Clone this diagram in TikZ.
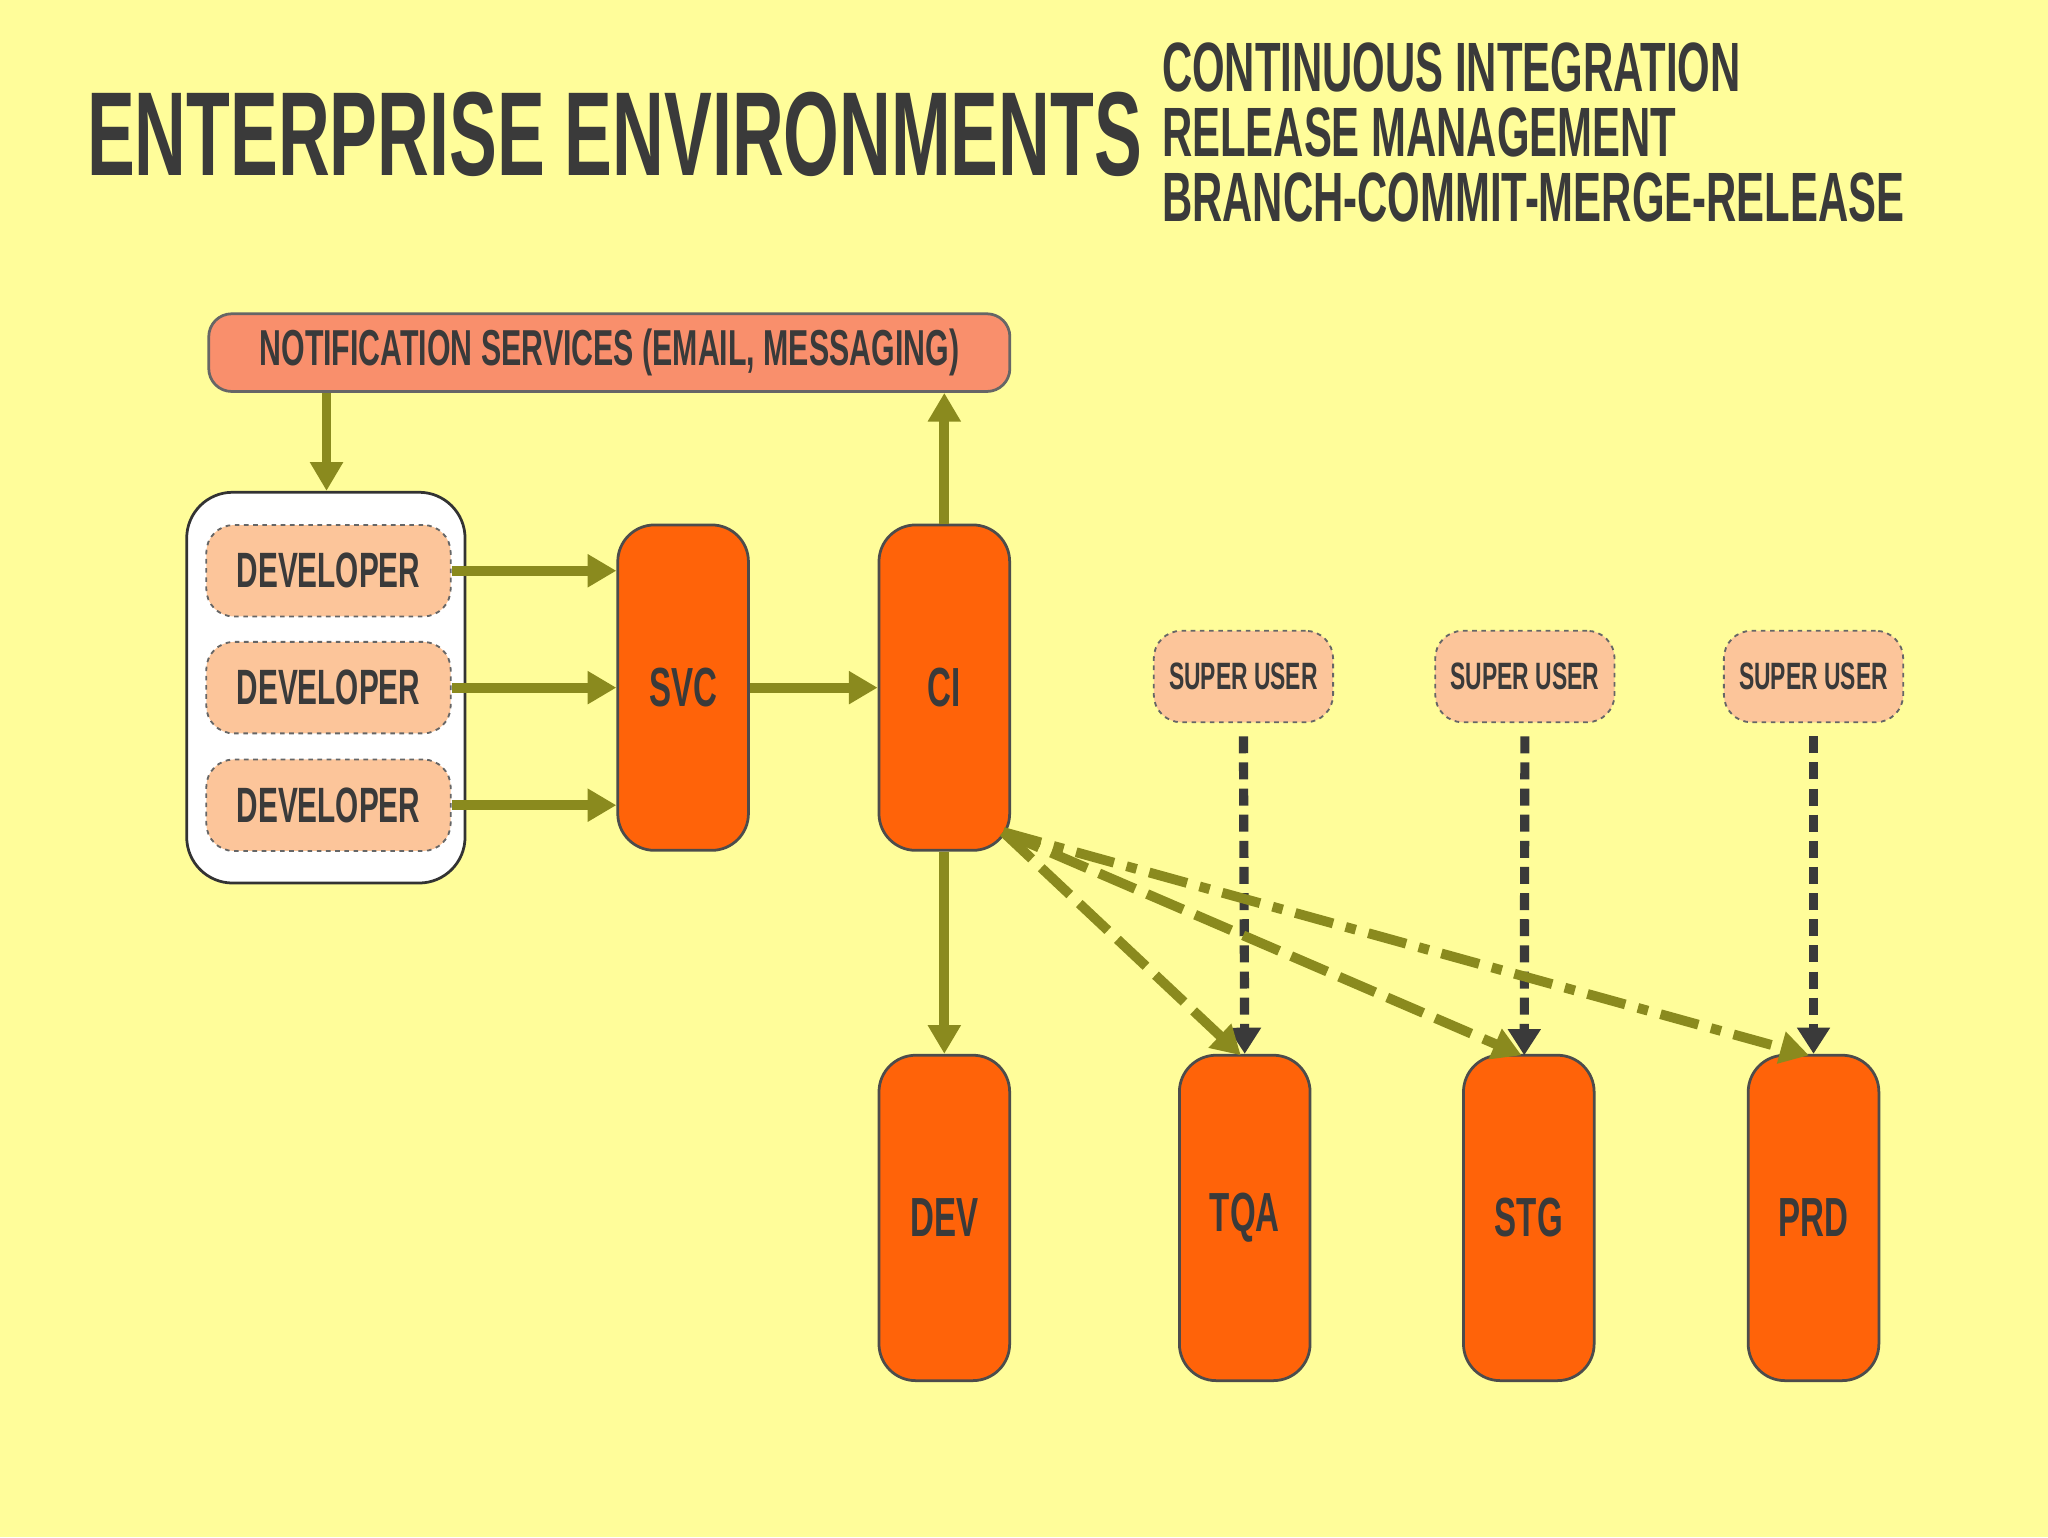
\documentclass[tikz,border=0pt]{standalone}
\usepackage{fontspec}
\setmainfont{Liberation Sans}[FakeStretch=0.6]
\usetikzlibrary{arrows.meta}
\definecolor{bg}{HTML}{FFFD9A}
\definecolor{olive}{HTML}{8A8A1E}
\definecolor{orng}{HTML}{FF6309}
\definecolor{salm}{HTML}{F98F6C}
\definecolor{peach}{HTML}{FCC59A}
\definecolor{txt}{HTML}{3A3A3A}
\begin{document}
\begin{tikzpicture}[x=0.01cm,y=-0.01cm,
  env/.style={draw=black!70,fill=orng,rounded corners=8pt,line width=0.6pt,font=\bfseries\fontsize{12}{12}\selectfont,text=txt},
  dev/.style={draw=black!60,dash pattern=on 1pt off 1pt,fill=peach,rounded corners=6pt,minimum width=1.87cm,minimum height=0.70cm,font=\bfseries\fontsize{10.8}{10.8}\selectfont,text=txt},
  su/.style={draw=black!60,dash pattern=on 1pt off 1pt,fill=peach,rounded corners=6pt,minimum width=1.28cm,minimum height=0.70cm,font=\bfseries\fontsize{8.3}{8.3}\selectfont,text=txt},
  oar/.style={draw=olive,line width=0.075cm,-{Triangle[length=0.22cm,width=0.24cm]}},
  gar/.style={draw=txt,line width=0.07cm,dash pattern=on 0.13cm off 0.07cm,-{Triangle[length=0.2cm,width=0.24cm]}},
]
\useasboundingbox (0,0) rectangle (1568,1177);
\fill[bg] (0,0) rectangle (1568,1177);
\node[anchor=west,inner sep=0,text=txt,font=\bfseries\fontsize{26}{26}\selectfont] (title) at (66,103) {ENTERPRISE ENVIRONMENTS};
\node[anchor=north west,inner sep=0,text=txt,align=left,font=\bfseries\fontsize{15.2}{14.2}\selectfont] (sub) at (889,32) {CONTINUOUS INTEGRATION\\RELEASE MANAGEMENT\\BRANCH-COMMIT-MERGE-RELEASE};
\node[draw=black!60,fill=salm,rounded corners=5pt,minimum width=6.13cm,minimum height=0.5cm,font=\bfseries\fontsize{11}{11}\selectfont,text=txt,line width=0.6pt] (notif) at (466.5,270) {NOTIFICATION SERVICES (EMAIL, MESSAGING)};
\node[draw=black!80,fill=white,rounded corners=10pt,minimum width=2.13cm,minimum height=2.99cm,line width=0.6pt] (grp) at (249.5,526.5) {};
\node[dev] (d1) at (251.5,437) {DEVELOPER};
\node[dev] (d2) at (251.5,526.5) {DEVELOPER};
\node[dev] (d3) at (251.5,616.5) {DEVELOPER};
\node[env,minimum width=1cm,minimum height=2.49cm] (svc) at (523,526.5) {SVC};
\node[env,minimum width=1cm,minimum height=2.49cm] (ci) at (723,526.5) {CI};
\node[env,minimum width=1cm,minimum height=2.49cm] (dev) at (723,932.5) {DEV};
\node[env,minimum width=1cm,minimum height=2.49cm] (tqa) at (953,932.5) {TQA};
\node[env,minimum width=1cm,minimum height=2.49cm] (stg) at (1170.5,932.5) {STG};
\node[env,minimum width=1cm,minimum height=2.49cm] (prd) at (1388.5,932.5) {PRD};
\node[su] (s1) at (952,518) {SUPER USER};
\node[su] (s2) at (1167.5,518) {SUPER USER};
\node[su] (s3) at (1388.5,518) {SUPER USER};
\coordinate (cic) at (768,637);
\draw[oar] (notif.south -| 250,0) -- (grp.north -| 250,0);
\draw[oar] (ci.north) -- (notif.south -| ci.north);
\draw[oar] (d1.east) -- (svc.west |- d1.east);
\draw[oar] (d2.east) -- (svc.west |- d2.east);
\draw[oar] (d3.east) -- (svc.west |- d3.east);
\draw[oar] (svc.east) -- (ci.west);
\draw[oar] (ci.south) -- (dev.north);
\draw[gar] (s1.south)++(0,10) -- (tqa.north);
\draw[gar] (s2.south)++(0,10) -- (1167,808);
\draw[gar] (s3.south)++(0,10) -- (prd.north);
\draw[oar,dash pattern=on 0.3cm off 0.1cm] (cic) -- (950,808);
\draw[oar,dash pattern=on 0.3cm off 0.1cm] (cic) -- (1165,808);
\draw[oar,dash pattern=on 0.3cm off 0.1cm on 0.08cm off 0.1cm] (cic) -- (1385,808);
\end{tikzpicture}
\end{document}
